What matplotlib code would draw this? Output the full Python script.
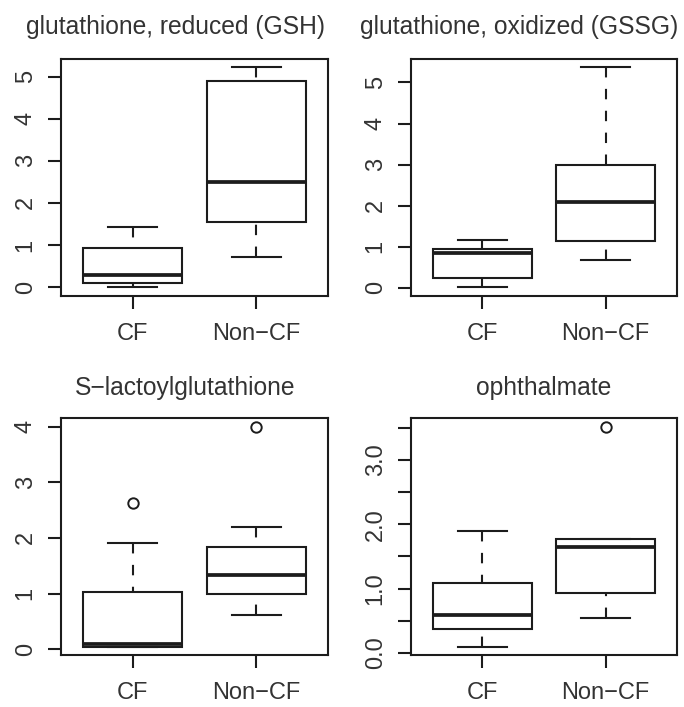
import matplotlib
matplotlib.use('Agg')
import matplotlib.pyplot as plt

plt.rcParams['font.family'] = ['Liberation Sans', 'DejaVu Sans']

groups = ['CF', 'Non\u2212CF']
titles = ['glutathione, reduced (GSH)', 'glutathione, oxidized (GSSG)',
          'S\u2212lactoylglutathione', 'ophthalmate']

# box summaries: whisker low, q1, median, q3, whisker high
gsh_cf = [0.01, 0.095, 0.29, 0.93, 1.42]
gsh_non = [0.72, 1.55, 2.49, 4.90, 5.22]
gssg_cf = [0.025, 0.23, 0.84, 0.95, 1.16]
gssg_non = [0.67, 1.15, 2.10, 2.99, 5.37]
lact_cf = [0.05, 0.05, 0.09, 1.03, 1.91]
lact_non = [0.61, 1.00, 1.33, 1.84, 2.20]
oph_cf = [0.10, 0.37, 0.59, 1.09, 1.90]
oph_non = [0.545, 0.93, 1.64, 1.77, 1.77]

# outliers
gsh_cf_out, gsh_non_out = [], []
gssg_cf_out, gssg_non_out = [], []
lact_cf_out, lact_non_out = [2.62], [3.99]
oph_cf_out, oph_non_out = [], [3.51]

# y ticks and labels
gsh_ticks = [0, 1, 2, 3, 4, 5]
gssg_ticks = [0, 1, 2, 3, 4, 5]
lact_ticks = [0, 1, 2, 3, 4]
oph_ticks = [0.0, 0.5, 1.0, 1.5, 2.0, 2.5, 3.0, 3.5]
oph_labels = ['0.0', '', '1.0', '', '2.0', '', '3.0', '']

panels = [
    (gsh_cf, gsh_non, gsh_cf_out, gsh_non_out, gsh_ticks, [str(t) for t in gsh_ticks]),
    (gssg_cf, gssg_non, gssg_cf_out, gssg_non_out, gssg_ticks, [str(t) for t in gssg_ticks]),
    (lact_cf, lact_non, lact_cf_out, lact_non_out, lact_ticks, [str(t) for t in lact_ticks]),
    (oph_cf, oph_non, oph_cf_out, oph_non_out, oph_ticks, oph_labels),
]

W, H = 684, 707
fig = plt.figure(figsize=(W / 100, H / 100), dpi=100)
fig.patch.set_facecolor('white')

lefts = [61, 411]
widths = [267, 266]
tops = [58.5, 418.3]
height = 237
title_pads = [18, 16.5]
# title centres in pixels (the top ones sit left of the plot centre)
title_cx = [175.5, 518.7, 185, 543.7]

line_c = '#1c1c1c'
text_c = '#333333'
lw = 1.5

for i, (cf, non, cf_out, non_out, ticks, labels) in enumerate(panels):
    r, c = divmod(i, 2)
    ax = fig.add_axes([lefts[c] / W, 1 - (tops[r] + height) / H, widths[c] / W, height / H])

    stats = []
    for vals, out in ((cf, cf_out), (non, non_out)):
        stats.append(dict(whislo=vals[0], q1=vals[1], med=vals[2], q3=vals[3],
                          whishi=vals[4], fliers=out))

    res = ax.bxp(stats, positions=[1, 2], widths=0.8, capwidths=0.4,
                 patch_artist=True, showfliers=True,
                 boxprops=dict(facecolor='white', edgecolor=line_c, linewidth=lw),
                 whiskerprops=dict(color=line_c, linewidth=lw, linestyle=(0, (5, 5.5))),
                 capprops=dict(color=line_c, linewidth=lw),
                 medianprops=dict(color=line_c, linewidth=2.7, solid_capstyle='butt'),
                 flierprops=dict(marker='o', markerfacecolor='none',
                                 markeredgecolor=line_c, markersize=7.5,
                                 markeredgewidth=1.4))
    # R draws whiskers from the cap towards the box
    for w in res['whiskers']:
        w.set_ydata(list(w.get_ydata())[::-1])

    allv = list(cf) + list(non) + list(cf_out) + list(non_out)
    lo, hi = min(allv), max(allv)
    ext = (hi - lo) * 0.04
    ax.set_ylim(lo - ext, hi + ext)
    ax.set_xlim(0.42, 2.58)

    ax.set_yticks(ticks)
    ax.set_yticklabels(labels, rotation=90, va='center')
    ax.set_xticks([1, 2])
    ax.set_xticklabels(groups)
    ax.tick_params(axis='both', direction='out', length=9.5, width=lw,
                   color=line_c, labelsize=17, labelcolor=text_c)
    ax.tick_params(axis='y', pad=8)
    ax.tick_params(axis='x', pad=10)
    for s in ax.spines.values():
        s.set_linewidth(lw)
        s.set_color(line_c)

    tx = (title_cx[i] - lefts[c]) / widths[c]
    ax.set_title(titles[i], fontsize=17.7, color=text_c, pad=title_pads[r], x=tx)

fig.savefig('out.png', dpi=100, facecolor='white')
